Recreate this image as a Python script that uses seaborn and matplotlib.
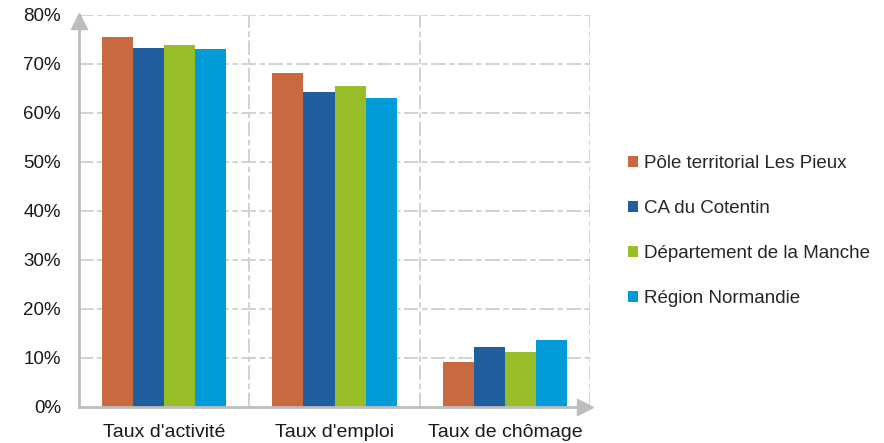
import pandas as pd
import matplotlib
matplotlib.use("Agg")
import matplotlib.pyplot as plt
import seaborn as sns
from matplotlib.ticker import FuncFormatter

# data
categories = ["Taux d'activité", "Taux d'emploi", "Taux de chômage"]
territories = ["Pôle territorial Les Pieux", "CA du Cotentin",
               "Département de la Manche", "Région Normandie"]
pole = [75.4, 68.2, 9.2]
ca = [73.3, 64.3, 12.2]
manche = [73.8, 65.5, 11.2]
region = [73.1, 63.1, 13.7]
colors = ["#C8693F", "#1F5F9E", "#97BE26", "#009BD8"]

rows = []
for name, vals in zip(territories, [pole, ca, manche, region]):
    for cat, v in zip(categories, vals):
        rows.append({"cat": cat, "terr": name, "val": v})
df = pd.DataFrame(rows)

sns.set_style("white")
plt.rcParams["font.family"] = ["Liberation Sans", "DejaVu Sans"]

fig = plt.figure(figsize=(8.84, 4.43), dpi=100)
ax = fig.add_axes([0.0894, 0.0813, 0.578, 0.885])

sns.barplot(data=df, x="cat", y="val", hue="terr", order=categories,
            hue_order=territories, palette=colors, saturation=1, width=0.73,
            edgecolor="none", ax=ax)

ax.set_xlim(-0.5, 2.5)
ax.set_ylim(0, 80)
ax.set_yticks(range(0, 81, 10))
ax.yaxis.set_major_formatter(FuncFormatter(lambda v, p: f"{int(v)}%"))
ax.set_xlabel("")
ax.set_ylabel("")
ax.tick_params(axis="both", labelsize=14, colors="#1A1A1A", length=0)
ax.tick_params(axis="x", pad=12)
ax.tick_params(axis="y", labelsize=13.5, pad=13)

# dashed grid
grid_kw = dict(color="#CFCFCF", lw=1.3, ls=(0, (8, 2, 3, 2)), zorder=0)
for y in range(10, 81, 10):
    ax.axhline(y, **grid_kw)
for x in [0.5, 1.5, 2.5]:
    ax.axvline(x, **grid_kw)

for s in ["top", "right"]:
    ax.spines[s].set_visible(False)
for s in ["left", "bottom"]:
    ax.spines[s].set_color("#BDBDBD")
    ax.spines[s].set_linewidth(2)

# arrow heads on the axes
ax.plot(0, 0.985, marker="^", markersize=12, color="#BDBDBD",
        transform=ax.transAxes, clip_on=False)
ax.plot(0.99, 0, marker=">", markersize=12, color="#BDBDBD",
        transform=ax.transAxes, clip_on=False)

handles, labels = ax.get_legend_handles_labels()
ax.legend_.remove()
fig.legend(handles, labels, loc="center left", bbox_to_anchor=(0.691, 0.478),
           frameon=False, fontsize=13.5, handlelength=0.55, handleheight=0.55,
           handletextpad=0.3, labelspacing=1.5)

fig.savefig("out.png", dpi=100)
